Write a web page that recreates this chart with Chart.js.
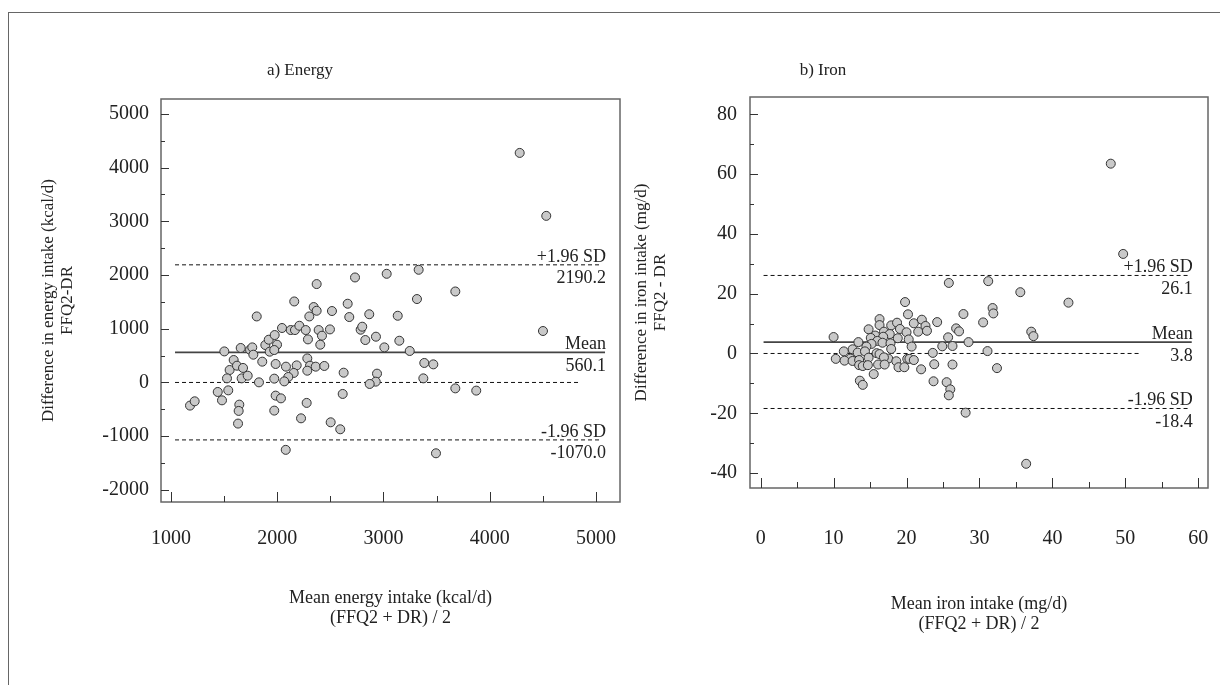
<!DOCTYPE html>
<html>
<head>
<meta charset="utf-8">
<title>Bland-Altman: energy and iron</title>
<script src="https://cdn.jsdelivr.net/npm/chart.js@4.4.1/dist/chart.umd.min.js"></script>
<style>
    body { margin: 0; background: #fff; }
    #wrap { position: relative; width: 1220px; height: 685px; overflow: hidden; background: #fff; }
    #frame { position: absolute; left: 8px; top: 12px; width: 1400px; height: 900px;
             border-left: 1.5px solid #666; border-top: 1.5px solid #666; }
    canvas { position: absolute; top: 0; }
    #energyChart { left: 0; }
    #ironChart { left: 610px; }
    .panel-title { position: absolute; top: 60px; width: 200px; text-align: center;
                   font: 17px "Liberation Serif", "Times New Roman", serif; color: #222; line-height: 20px; }
</style>
</head>
<body>
<div id="wrap">
    <div id="frame"></div>
    <canvas id="energyChart" width="640" height="685"></canvas>
    <canvas id="ironChart" width="610" height="685"></canvas>
    <div class="panel-title" style="left:200px">a) Energy</div>
    <div class="panel-title" style="left:723px">b) Iron</div>
</div>
<script>
// a) Energy: mean of FFQ2 and DR (x) vs difference FFQ2 - DR (y), kcal/d
const energyMean = [
    1807, 2160, 2371, 2732, 3030, 2343, 2371, 2302, 2515, 2663,
    2678, 2866, 3134, 2045, 2127, 2167, 2208, 2268, 2289, 2390,
    2421, 2405, 2496, 2785, 2800, 2829, 2929, 3008, 3149, 1502,
    1656, 1744, 1765, 1775, 1888, 1920, 1929, 1976, 1998, 1972,
    1590, 1552, 1621, 1678, 1527, 1665, 1722, 1859, 1985, 2082,
    2183, 2283, 2308, 2362, 2443, 2283, 2155, 2104, 2066, 1972,
    1828, 2625, 2939, 2927, 2870, 1440, 1539, 1480, 1179, 1223,
    1643, 1637, 1631, 1985, 2035, 1972, 2277, 2224, 2616, 2503,
    2593, 2080, 4282, 4532, 3331, 3676, 3315, 4501, 3247, 3384,
    3469, 3375, 3676, 3873, 3494
];
const energyDiff = [
    1229, 1508, 1832, 1955, 2023, 1404, 1335, 1229, 1330, 1466,
    1218, 1270, 1242, 1014, 976, 976, 1056, 976, 802, 976,
    870, 703, 988, 982, 1038, 790, 852, 653, 777, 578,
    642, 610, 653, 517, 697, 796, 573, 883, 703, 604,
    418, 232, 312, 270, 76, 76, 126, 387, 344, 294,
    318, 448, 312, 294, 307, 219, 177, 102, 20, 71,
    2, 182, 164, 15, -28, -177, -147, -333, -431, -351,
    -413, -530, -766, -245, -296, -524, -381, -668, -214, -742,
    -872, -1255, 4274, 3102, 2098, 1694, 1553, 958, 586, 363,
    337, 76, -110, -152, -1319
];
const energyXTicks = [1000, 2000, 3000, 4000, 5000];
const energyYTicks = [-2000, -1000, 0, 1000, 2000, 3000, 4000, 5000];
// mean, +1.96 SD, -1.96 SD
const energyLimits = [560.1, 2190.2, -1070.0];
const energyLimitText = ['560.1', '2190.2', '-1070.0'];
// where the reference lines start / end on the x axis: [start, sdEnd, meanEnd, zeroEnd]
const energyLineX = [1038, 5056, 5085, 4859];
const energyRange = { xMin: 906, xMax: 5226, yMin: -2226, yMax: 5278 };

// b) Iron, mg/d
const ironMean = [
    19.8, 20.2, 10.0, 16.3, 16.3, 14.8, 17.9, 18.7, 19.1, 16.9,
    15.7, 17.7, 20.0, 18.8, 13.4, 15.1, 16.8, 16.0, 16.7, 15.2,
    17.8, 14.5, 17.9, 12.6, 11.4, 13.3, 14.3, 15.9, 16.3, 12.3,
    10.3, 11.5, 12.6, 14.8, 13.5, 17.5, 16.9, 18.6, 20.1, 13.5,
    14.0, 14.7, 16.1, 17.0, 18.9, 19.7, 15.5, 13.6, 14.0, 25.8,
    31.2, 35.6, 21.0, 22.1, 22.6, 21.6, 22.8, 24.2, 27.8, 31.8,
    31.9, 30.5, 26.8, 27.2, 20.3, 25.7, 24.9, 26.3, 28.5, 37.1,
    37.4, 20.7, 23.6, 31.1, 20.4, 21.0, 23.8, 26.3, 22.0, 32.4,
    23.7, 25.5, 26.0, 25.8, 28.1, 36.4, 48.0, 49.7, 42.2
];
const ironDiff = [
    17.2, 13.1, 5.5, 11.5, 9.5, 8.1, 9.4, 10.3, 8.2, 7.3,
    6.0, 6.5, 7.1, 5.1, 3.8, 5.2, 5.6, 4.2, 3.6, 3.2,
    3.4, 2.3, 1.5, 1.4, 0.7, 0.3, 0.7, 0.1, -0.2, -1.7,
    -1.8, -2.4, -2.5, -1.4, -2.2, -1.7, -1.3, -2.6, -1.8, -3.9,
    -4.2, -3.9, -3.7, -3.7, -4.6, -4.6, -6.9, -9.1, -10.5, 23.6,
    24.2, 20.5, 10.1, 11.3, 9.2, 7.3, 7.6, 10.5, 13.2, 15.2,
    13.4, 10.4, 8.4, 7.4, 4.7, 5.4, 2.4, 2.5, 3.8, 7.3,
    5.8, 2.3, 0.2, 0.8, -1.8, -2.2, -3.6, -3.7, -5.3, -4.9,
    -9.3, -9.6, -12.0, -14.0, -19.8, -36.9, 63.5, 33.3, 17.0
];
const ironXTicks = [0, 10, 20, 30, 40, 50, 60];
const ironYTicks = [-40, -20, 0, 20, 40, 60, 80];
const ironLimits = [3.8, 26.1, -18.4];
const ironLimitText = ['3.8', '26.1', '-18.4'];
const ironLineX = [0.4, 58.6, 59.1, 52.0];
const ironRange = { xMin: -1.46, xMax: 61.33, yMin: -45.0, yMax: 85.8 };

const limitNames = ['Mean', '+1.96 SD', '-1.96 SD'];

const SERIF = '"Liberation Serif", "Times New Roman", serif';

let energyChart;
let ironChart;

document.addEventListener('DOMContentLoaded', function() {
    Chart.defaults.font.family = SERIF;
    Chart.defaults.color = '#222';
    energyChart = makePanel('energyChart', {
        xs: energyMean, ys: energyDiff, xTicks: energyXTicks, yTicks: energyYTicks,
        limits: energyLimits, limitText: energyLimitText, lineX: energyLineX, range: energyRange,
        xStep: 1000, yStep: 1000, xMinor: 500, yMinor: 500,
        padding: { left: 0, top: 99, right: 20, bottom: 53 },
        yWidth: 161, xHeight: 130, xTickPad: 25, yTickPad: 12, yTitlePad: 39,
        xTitle: ['Mean energy intake (kcal/d)', '(FFQ2 + DR) / 2'],
        yTitle: ['Difference in energy intake (kcal/d)', 'FFQ2-DR']
    });
    ironChart = makePanel('ironChart', {
        xs: ironMean, ys: ironDiff, xTicks: ironXTicks, yTicks: ironYTicks,
        limits: ironLimits, limitText: ironLimitText, lineX: ironLineX, range: ironRange,
        xStep: 10, yStep: 20, xMinor: 5, yMinor: 10,
        padding: { left: 0, top: 97, right: 12, bottom: 47 },
        yWidth: 140, xHeight: 150, xTickPad: 39, yTickPad: 13, yTitlePad: 22,
        xTitle: ['Mean iron intake (mg/d)', '(FFQ2 + DR) / 2'],
        yTitle: ['Difference in iron intake (mg/d)', 'FFQ2 - DR']
    });
});

// box round the plot, inward tick marks, and the labels on the reference lines
const panelDecor = {
    id: 'panelDecor',
    beforeDatasetsDraw(chart, args, opts) {
        const { ctx, chartArea: a, scales: { x, y } } = chart;
        ctx.save();
        ctx.strokeStyle = '#666';
        ctx.lineWidth = 1.5;
        ctx.strokeRect(a.left, a.top, a.right - a.left, a.bottom - a.top);

        ctx.strokeStyle = '#333';
        ctx.lineWidth = 1;
        ctx.beginPath();
        for (let v = Math.ceil(y.min / opts.yMinor) * opts.yMinor; v <= y.max; v += opts.yMinor) {
            const py = Math.round(y.getPixelForValue(v)) + 0.5;
            const len = Math.abs(v % opts.yStep) < 1e-9 ? 8 : 4;
            ctx.moveTo(a.left, py);
            ctx.lineTo(a.left + len, py);
        }
        for (let v = Math.ceil(x.min / opts.xMinor) * opts.xMinor; v <= x.max; v += opts.xMinor) {
            const px = Math.round(x.getPixelForValue(v)) + 0.5;
            const len = Math.abs(v % opts.xStep) < 1e-9 ? 10 : 6;
            ctx.moveTo(px, a.bottom);
            ctx.lineTo(px, a.bottom - len);
        }
        ctx.stroke();
        ctx.restore();
    },
    afterDatasetsDraw(chart, args, opts) {
        const { ctx, scales: { x, y } } = chart;
        ctx.save();
        ctx.font = '18px ' + SERIF;
        ctx.fillStyle = '#222';
        ctx.textAlign = 'right';
        ctx.textBaseline = 'alphabetic';
        const px = x.getPixelForValue(opts.labelX) + 1;
        opts.limits.forEach((value, i) => {
            const py = y.getPixelForValue(value);
            ctx.fillText(limitNames[i], px, py - 3);
            ctx.fillText(opts.limitText[i], px, py + 18.5);
        });
        ctx.restore();
    }
};

function hLine(value, x0, x1, color, width, dash) {
    return {
        data: [{ x: x0, y: value }, { x: x1, y: value }],
        showLine: true,
        borderColor: color,
        borderWidth: width,
        borderDash: dash,
        pointRadius: 0,
        fill: false
    };
}

function makePanel(canvasId, p) {
    const ctx = document.getElementById(canvasId).getContext('2d');
    const [start, sdEnd, meanEnd, zeroEnd] = p.lineX;
    return new Chart(ctx, {
        type: 'scatter',
        data: {
            datasets: [
                {
                    data: p.xs.map((v, i) => ({ x: v, y: p.ys[i] })),
                    backgroundColor: '#c9c9c9',
                    borderColor: '#333',
                    borderWidth: 1,
                    pointRadius: 4.5
                },
                hLine(p.limits[0], start, meanEnd, '#444', 1.6, []),
                hLine(p.limits[1], start, sdEnd, '#111', 1, [4, 3]),
                hLine(p.limits[2], start, sdEnd, '#111', 1, [4, 3]),
                hLine(0, start, zeroEnd, '#111', 1, [4, 3])
            ]
        },
        options: {
            responsive: false,
            animation: false,
            devicePixelRatio: 1,
            layout: { padding: p.padding },
            plugins: {
                legend: { display: false },
                tooltip: { enabled: false },
                panelDecor: {
                    xStep: p.xStep, yStep: p.yStep, xMinor: p.xMinor, yMinor: p.yMinor,
                    limits: p.limits, limitText: p.limitText, labelX: meanEnd
                }
            },
            scales: {
                x: {
                    type: 'linear',
                    min: p.range.xMin,
                    max: p.range.xMax,
                    // tick marks are drawn inward by panelDecor; tickLength only pushes the labels down
                    grid: { display: false, drawTicks: true, tickLength: p.xTickPad },
                    border: { display: false },
                    afterBuildTicks: scale => { scale.ticks = p.xTicks.map(v => ({ value: v })); },
                    ticks: {
                        autoSkip: false,
                        maxRotation: 0,
                        padding: 0,
                        color: '#222',
                        font: { size: 20 },
                        callback: v => String(v)
                    },
                    title: {
                        display: true,
                        text: p.xTitle,
                        color: '#222',
                        font: { size: 18, lineHeight: 1.1 },
                        padding: { top: 0, bottom: 4 }
                    },
                    afterFit: scale => {
                        scale.height = p.xHeight;
                        scale.paddingLeft = 0;
                        scale.paddingRight = 0;
                    }
                },
                y: {
                    type: 'linear',
                    min: p.range.yMin,
                    max: p.range.yMax,
                    grid: { display: false, drawTicks: true, tickLength: p.yTickPad },
                    border: { display: false },
                    afterBuildTicks: scale => { scale.ticks = p.yTicks.map(v => ({ value: v })); },
                    ticks: {
                        autoSkip: false,
                        padding: 0,
                        color: '#222',
                        font: { size: 20 },
                        callback: v => String(v)
                    },
                    title: {
                        display: true,
                        text: p.yTitle,
                        color: '#222',
                        font: { size: 17, lineHeight: 1.1 },
                        padding: { top: p.yTitlePad, bottom: 0 }
                    },
                    afterFit: scale => { scale.width = p.yWidth; }
                }
            }
        },
        plugins: [panelDecor]
    });
}
</script>
</body>
</html>
